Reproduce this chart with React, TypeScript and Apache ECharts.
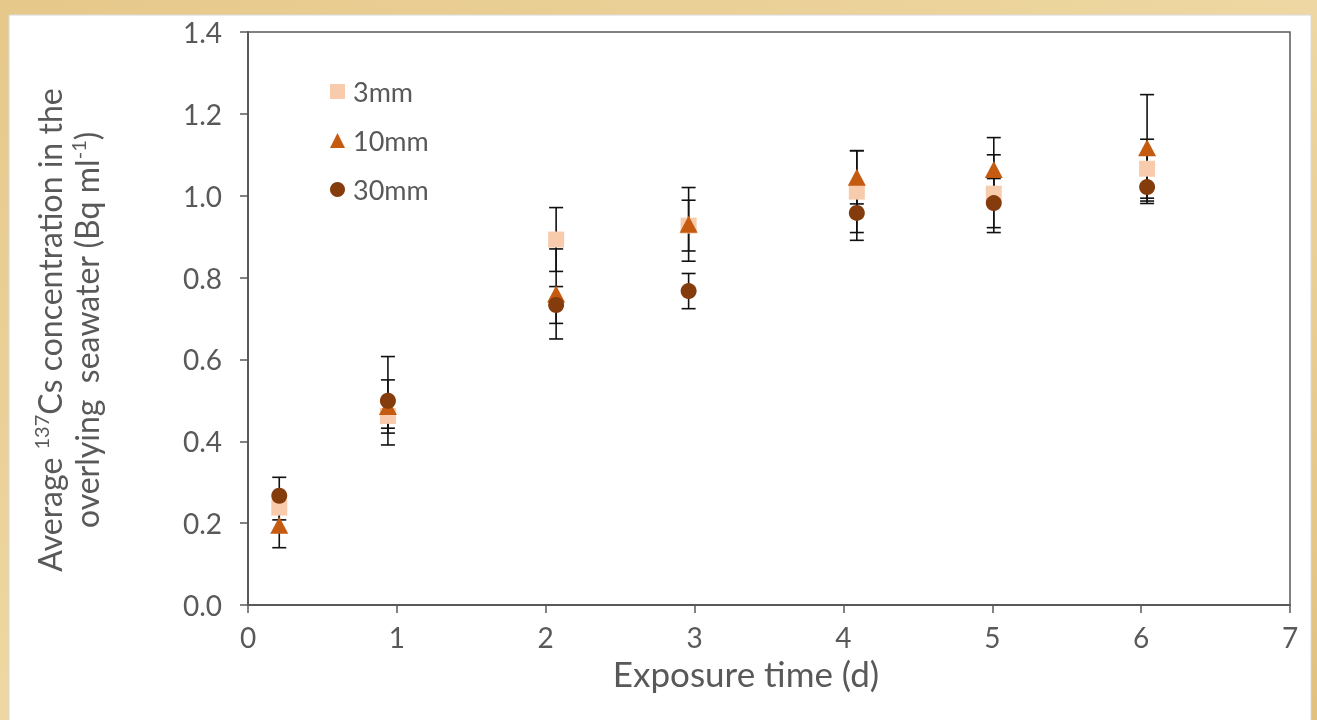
import React, { useEffect, useRef } from "react";
import * as echarts from "echarts";

// Exposure time (days) at which the overlying seawater was sampled
const days = [0.21, 0.94, 2.07, 2.96, 4.09, 5.01, 6.04];

// Mean 137Cs concentration (Bq/ml) and standard deviation per sediment depth
const mm3 = [0.238, 0.462, 0.893, 0.927, 1.01, 1.005, 1.066];
const mm3Err = [0.03, 0.03, 0.078, 0.062, 0.1, 0.095, 0.072];
const mm10 = [0.195, 0.485, 0.76, 0.93, 1.045, 1.064, 1.117];
const mm10Err = [0.055, 0.065, 0.11, 0.09, 0.065, 0.078, 0.13];
const mm30 = [0.267, 0.499, 0.733, 0.767, 0.958, 0.982, 1.021];
const mm30Err = [0.045, 0.108, 0.045, 0.043, 0.067, 0.06, 0.04];

const seriesNames = ["3mm", "10mm", "30mm"];
const xTicks = [0, 1, 2, 3, 4, 5, 6, 7];
const yTicks = [0, 0.2, 0.4, 0.6, 0.8, 1.0, 1.2, 1.4];

const FONT = "Lato, 'Open Sans', sans-serif";
const TEXT = "#595959";
const AXIS = "#595959";

const points = (vals: number[]) => vals.map((v, i) => [days[i], v]);
const bars = (vals: number[], errs: number[]) =>
  vals.map((v, i) => [days[i], v, errs[i]]);

const errorBarSeries = (vals: number[], errs: number[]) => ({
  type: "custom",
  z: 1,
  silent: true,
  data: bars(vals, errs),
  encode: { x: 0, y: 1 },
  renderItem: (_params: any, api: any) => {
    const x = api.value(0);
    const y = api.value(1);
    const e = api.value(2);
    const top = api.coord([x, y + e]);
    const bot = api.coord([x, y - e]);
    const half = 7;
    const style = { stroke: "#111111", lineWidth: 1.6 };
    return {
      type: "group",
      children: [
        { type: "line", shape: { x1: top[0], y1: top[1], x2: bot[0], y2: bot[1] }, style },
        { type: "line", shape: { x1: top[0] - half, y1: top[1], x2: top[0] + half, y2: top[1] }, style },
        { type: "line", shape: { x1: bot[0] - half, y1: bot[1], x2: bot[0] + half, y2: bot[1] }, style },
      ],
    };
  },
});

export default function App() {
  const ref = useRef<HTMLDivElement>(null);

  useEffect(() => {
    if (!ref.current) return;
    const chart = echarts.init(ref.current, null, { renderer: "svg" });

    chart.setOption({
      animation: false,
      backgroundColor: "transparent",
      textStyle: { fontFamily: FONT },
      graphic: [
        {
          type: "rect",
          z: -10,
          silent: true,
          shape: { x: 0, y: 0, width: 1317, height: 720 },
          style: {
            fill: new echarts.graphic.LinearGradient(0, 0, 1, 1, [
              { offset: 0, color: "#E6C88A" },
              { offset: 0.5, color: "#EED7A2" },
              { offset: 1, color: "#E2C17E" },
            ]),
          },
        },
        {
          type: "rect",
          z: -9,
          silent: true,
          shape: { x: 9, y: 15, width: 1302, height: 710 },
          style: { fill: "#FFFFFF", stroke: "#D8D8D8", lineWidth: 1 },
        },
        {
          type: "text",
          silent: true,
          x: 68,
          y: 330,
          rotation: Math.PI / 2,
          style: {
            text:
              "Average {sup|137}Cs concentration in the\noverlying  seawater (Bq ml{sup|-1})",
            align: "center",
            verticalAlign: "middle",
            fill: TEXT,
            fontSize: 32,
            fontFamily: FONT,
            lineHeight: 37,
            rich: {
              sup: {
                fontSize: 20,
                fontFamily: FONT,
                fill: TEXT,
                verticalAlign: "top",
                lineHeight: 37,
                padding: [0, 0, 14, 0],
              },
            },
          },
        },
      ],
      grid: {
        left: 248,
        right: 27,
        top: 32,
        bottom: 115,
        show: true,
        borderColor: AXIS,
        borderWidth: 1.5,
        backgroundColor: "transparent",
      },
      legend: {
        orient: "vertical",
        left: 325,
        top: 73,
        itemWidth: 15,
        itemHeight: 15,
        itemGap: 22,
        data: [
          { name: seriesNames[0], icon: "rect" },
          { name: seriesNames[1], icon: "triangle" },
          { name: seriesNames[2], icon: "circle" },
        ],
        textStyle: { color: TEXT, fontSize: 27, fontFamily: FONT, padding: [0, 0, 0, 3] },
      },
      xAxis: {
        type: "value",
        min: xTicks[0],
        max: xTicks[xTicks.length - 1],
        interval: 1,
        name: "Exposure time (d)",
        nameLocation: "middle",
        nameGap: 50,
        nameTextStyle: { color: TEXT, fontSize: 35, fontFamily: FONT, padding: [0, 46, 0, 0] },
        axisLine: { show: true, onZero: false, lineStyle: { color: AXIS, width: 2 } },
        axisTick: { show: true, length: 8, lineStyle: { color: AXIS, width: 1.5 } },
        axisLabel: { color: TEXT, fontSize: 28, fontFamily: FONT, margin: 18 },
        splitLine: { show: false },
      },
      yAxis: {
        type: "value",
        min: yTicks[0],
        max: yTicks[yTicks.length - 1],
        interval: 0.2,
        axisLine: { show: true, onZero: false, lineStyle: { color: AXIS, width: 2 } },
        axisTick: { show: true, length: 8, lineStyle: { color: AXIS, width: 1.5 } },
        axisLabel: {
          color: TEXT,
          fontSize: 28,
          fontFamily: FONT,
          margin: 26,
          formatter: (v: number) => v.toFixed(1),
        },
        splitLine: { show: false },
      },
      series: [
        errorBarSeries(mm3, mm3Err),
        errorBarSeries(mm10, mm10Err),
        errorBarSeries(mm30, mm30Err),
        {
          name: seriesNames[0],
          type: "scatter",
          z: 3,
          symbol: "rect",
          symbolSize: 16,
          itemStyle: { color: "#F8CBAD", opacity: 1 },
          data: points(mm3),
        },
        {
          name: seriesNames[1],
          type: "scatter",
          z: 4,
          symbol: "triangle",
          symbolSize: [18, 17],
          itemStyle: { color: "#C55A11", opacity: 1 },
          data: points(mm10),
        },
        {
          name: seriesNames[2],
          type: "scatter",
          z: 5,
          symbol: "circle",
          symbolSize: 16,
          itemStyle: { color: "#843C0C", opacity: 1 },
          data: points(mm30),
        },
      ],
    });

    return () => chart.dispose();
  }, []);

  return (
    <div
      ref={ref}
      style={{ position: "fixed", left: 0, top: 0, width: 1317, height: 720 }}
    />
  );
}
